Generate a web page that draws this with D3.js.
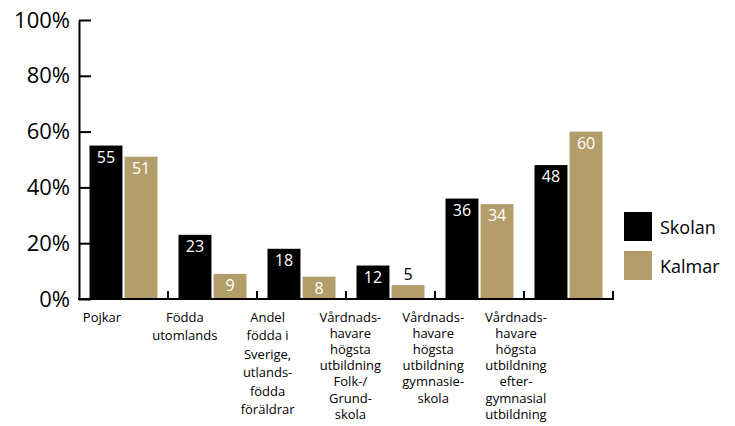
<!DOCTYPE html>
<html>
<head>
<meta charset="utf-8">
<script src="https://cdn.jsdelivr.net/npm/d3@7"></script>
<style>
  body { margin: 0; background: #fff; }
  svg, svg text { font-family: "Open Sans", sans-serif; }
  .tick text { font-size: 22px; fill: #000; }
  .val { font-size: 16px; text-anchor: middle; }
  .cat { font-size: 13px; text-anchor: middle; fill: #000; }
  .leg { font-size: 18px; fill: #000; }
</style>
</head>
<body>
<svg width="735" height="426"></svg>
<script>
var width = 735;
var height = 426;

// data
var categories = ["Pojkar", "Födda utomlands", "Andel födda i Sverige", "Folk-/Grundskola", "Gymnasieskola", "Eftergymnasial"];
var catLabels = [
  ["Pojkar"],
  ["Födda", "utomlands"],
  ["Andel", "födda i", "Sverige,", "utlands-", "födda", "föräldrar"],
  ["Vårdnads-", "havare", "högsta", "utbildning", "Folk-/", "Grund-", "skola"],
  ["Vårdnads-", "havare", "högsta", "utbildning", "gymnasie-", "skola"],
  ["Vårdnads-", "havare", "högsta", "utbildning", "efter-", "gymnasial", "utbildning"]
];
var series = ["Skolan", "Kalmar"];
var skolan = [55, 23, 18, 12, 36, 48];
var kalmar = [51, 9, 8, 5, 34, 60];
var yTicks = [0, 20, 40, 60, 80, 100];

var colors = {Skolan: "#000000", Kalmar: "#b39d6b"};

var svg = d3.select("svg");

var x0 = d3.scaleBand().domain(categories).range([79, 613]).padding(0);
var x1 = d3.scaleBand().domain(series).range([10.5, 78.5]).paddingInner(0.06);
var y = d3.scaleLinear().domain([0, 100]).range([299, 20]);
var xLab = d3.scalePoint().domain(categories).range([102, 516]);

var rows = categories.map(function(c, i) {
  return {cat: c, values: [{s: "Skolan", v: skolan[i]}, {s: "Kalmar", v: kalmar[i]}]};
});

// bars
var groups = svg.append("g").selectAll("g")
  .data(rows)
  .enter().append("g")
  .attr("transform", function(d) { return "translate(" + x0(d.cat) + ",0)"; });

groups.selectAll("rect")
  .data(function(d) { return d.values; })
  .enter().append("rect")
  .attr("x", function(d) { return x1(d.s); })
  .attr("width", x1.bandwidth())
  .attr("y", function(d) { return y(d.v); })
  .attr("height", function(d) { return y(0) - y(d.v); })
  .attr("fill", function(d) { return colors[d.s]; });

groups.selectAll("text")
  .data(function(d) { return d.values; })
  .enter().append("text")
  .attr("class", "val")
  .attr("x", function(d) { return x1(d.s) + x1.bandwidth() / 2; })
  .attr("y", function(d) { return d.v < 7 ? y(d.v) - 5 : y(d.v) + 17; })
  .attr("fill", function(d) { return d.v < 7 ? "#000" : "#fff"; })
  .text(function(d) { return d.v; });

// y axis
var yAxis = d3.axisLeft(y)
  .tickValues(yTicks)
  .tickFormat(function(d) { return d + "%"; })
  .tickSizeInner(-12)
  .tickSizeOuter(0)
  .tickPadding(9);

var gy = svg.append("g")
  .attr("transform", "translate(79,0)")
  .call(yAxis)
  .attr("font-family", null)
  .attr("font-size", null);
gy.select(".domain").attr("stroke", "#000").attr("stroke-width", 2);
gy.selectAll(".tick line").attr("stroke", "#000").attr("stroke-width", 2);

// x axis
var gx = svg.append("g");
gx.append("line")
  .attr("x1", x0.range()[0] - 1).attr("x2", x0.range()[1] + 1)
  .attr("y1", y(0)).attr("y2", y(0))
  .attr("stroke", "#000").attr("stroke-width", 2);
gx.selectAll(".xt")
  .data(categories)
  .enter().append("line")
  .attr("class", "xt")
  .attr("x1", function(d) { return x0(d) + x0.bandwidth(); })
  .attr("x2", function(d) { return x0(d) + x0.bandwidth(); })
  .attr("y1", y(0)).attr("y2", y(0) - 8)
  .attr("stroke", "#000").attr("stroke-width", 2);

// category labels
var labs = svg.append("g").selectAll("text")
  .data(categories)
  .enter().append("text")
  .attr("class", "cat")
  .attr("x", function(d) { return xLab(d); })
  .attr("y", 322);

labs.each(function(d, i) {
  var lh = i >= 3 ? 16.1 : 18.4;
  d3.select(this).selectAll("tspan")
    .data(catLabels[i])
    .enter().append("tspan")
    .attr("x", xLab(d))
    .attr("dy", function(t, j) { return j === 0 ? 0 : lh; })
    .text(function(t) { return t; });
});

// legend
var legend = svg.append("g").selectAll("g")
  .data(series)
  .enter().append("g")
  .attr("transform", function(d, i) { return "translate(624," + (212 + i * 39) + ")"; });

legend.append("rect")
  .attr("width", 28)
  .attr("height", 29)
  .attr("fill", function(d) { return colors[d]; });

legend.append("text")
  .attr("class", "leg")
  .attr("x", 36)
  .attr("y", 22)
  .text(function(d) { return d; });
</script>
</body>
</html>
